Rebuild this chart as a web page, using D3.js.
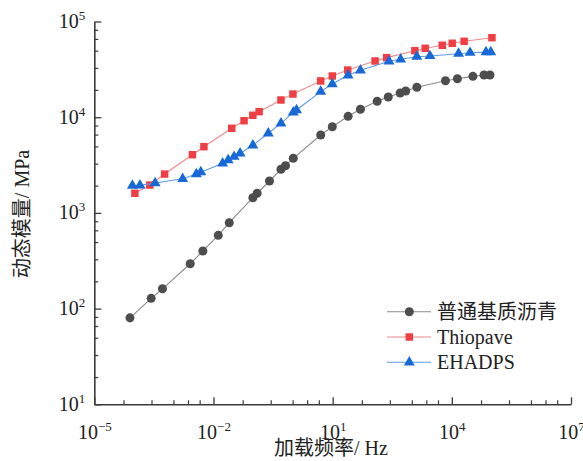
<!DOCTYPE html>
<html>
<head>
<meta charset="utf-8">
<script src="https://cdn.jsdelivr.net/npm/d3@7/dist/d3.min.js"></script>
<style>
  html, body { margin: 0; padding: 0; background: #fff; }
  svg { display: block; }
  text { font-family: "Liberation Serif", "Noto Sans CJK SC", serif; fill: #222; }
</style>
</head>
<body>
<svg id="chart" width="583" height="461"></svg>
<script>
// Loading frequency (Hz) and dynamic modulus (MPa) for each binder
const baseFreq = [7.9e-5, 2.7e-4, 5.2e-4, 2.6e-3, 5.4e-3, 0.0132, 0.025, 0.098, 0.126, 0.257, 0.50, 0.65, 1.02,
                  5.0, 9.8, 24.5, 50, 132, 251, 501, 692, 1318, 6918, 13800, 33900, 64600, 91200];
const baseMod  = [80, 128, 161, 294, 400, 583, 790, 1442, 1603, 2154, 2855, 3114, 3720,
                  6516, 7950, 10210, 12100, 14660, 16250, 17900, 18790, 20530, 24060, 25240, 26730, 27600, 27600];

const thioFreq = [1.05e-4, 2.5e-4, 5.9e-4, 2.95e-3, 5.75e-3, 0.0288, 0.0589, 0.098, 0.141, 0.50, 1.0,
                  5.0, 9.8, 24, 117, 229, 1175, 2138, 5754, 10230, 20400, 102300];
const thioMod  = [1603, 1955, 2546, 4055, 4920, 7657, 9190, 10470, 11430, 15130, 17460,
                  23900, 26950, 31100, 38650, 41900, 49550, 52500, 56400, 59200, 62100, 67700];

const ehaFreq  = [9.1e-5, 1.41e-4, 3.4e-4, 1.68e-3, 3.7e-3, 4.8e-3, 0.017, 0.0234, 0.0331, 0.0468, 0.098, 0.24,
                  0.50, 1.02, 1.23, 5.0, 9.8, 24.5, 50, 263, 513, 1318, 2818, 14800, 28800, 72400, 95500];
const ehaMod   = [1924, 1940, 2052, 2274, 2546, 2665, 3300, 3570, 3865, 4200, 5085, 6790,
                  8630, 11250, 11900, 18500, 22240, 27400, 30900, 38370, 40300, 42900, 43650, 46100, 47200, 47900, 47900];

const seriesNames = ["普通基质沥青", "Thiopave", "EHADPS"];

// Axis ticks (exponents of 10) and minor-tick offsets within each major step
const xTickExp = [-5, -2, 1, 4, 7];
const yTickExp = [1, 2, 3, 4, 5];
const xMinorFrac = [0.245, 0.48, 0.664, 0.786, 0.884];
const yMinorFrac = [0.285, 0.515, 0.695, 0.818, 0.913];

const xTitle = "加载频率/ Hz";
const yTitle = "动态模量/ MPa";

const svg = d3.select("#chart");
const plotLeft = 94.3, plotRight = 571, plotTop = 21.5, plotBottom = 404.3;

const x = d3.scaleLog().domain([1e-5, 1e7]).range([plotLeft, plotRight]);
const y = d3.scaleLog().domain([10, 1e5]).range([plotBottom, plotTop]);

const series = [
  { name: seriesNames[0], freq: baseFreq, mod: baseMod, marker: "#4d4d4d", line: "#8a8a8a", symbol: d3.symbolCircle, size: 64 },
  { name: seriesNames[1], freq: thioFreq, mod: thioMod, marker: "#ef3f45", line: "#f08a8c", symbol: d3.symbolSquare, size: 56 },
  { name: seriesNames[2], freq: ehaFreq,  mod: ehaMod,  marker: "#1769d8", line: "#5d9ae6", symbol: d3.symbolTriangle, size: 52 }
];

// Minor tick values derived from the fractional offsets
const xMinor = [];
for (let i = 0; i < xTickExp.length - 1; i++)
  xMinorFrac.forEach(f => xMinor.push(Math.pow(10, xTickExp[i] + 3 * f)));
const yMinor = [];
for (let i = 0; i < yTickExp.length - 1; i++)
  yMinorFrac.forEach(f => yMinor.push(Math.pow(10, yTickExp[i] + f)));

const axisColor = "#3a3a3a";

function superLabel(sel, exps) {
  sel.each(function(d, i) {
    const t = d3.select(this).text(null);
    t.append("tspan").text("10");
    t.append("tspan").attr("font-size", 13).attr("dy", -8).text(String(exps[i]).replace("-", "−"));
  });
}

// x axis: minor then major ticks, pointing inward
const gxMinor = svg.append("g").attr("transform", `translate(0,${plotBottom})`)
  .call(d3.axisBottom(x).tickValues(xMinor).tickSizeInner(-4).tickSizeOuter(0).tickFormat(""));
gxMinor.select(".domain").remove();
gxMinor.selectAll("line").attr("stroke", axisColor).attr("stroke-width", 1.2);

const gx = svg.append("g").attr("transform", `translate(0,${plotBottom})`)
  .call(d3.axisBottom(x).tickValues(xTickExp.map(e => Math.pow(10, e))).tickSizeInner(-7).tickSizeOuter(0));
gx.select(".domain").attr("stroke", axisColor).attr("stroke-width", 1.6);
gx.selectAll("line").attr("stroke", axisColor).attr("stroke-width", 1.3);
gx.selectAll(".tick text").attr("font-size", 20).attr("fill", "#222")
  .attr("font-family", "Liberation Serif, serif").attr("dy", 0).attr("y", 34.5)
  .call(superLabel, xTickExp);

// y axis
const gyMinor = svg.append("g").attr("transform", `translate(${plotLeft},0)`)
  .call(d3.axisLeft(y).tickValues(yMinor).tickSizeInner(-4).tickSizeOuter(0).tickFormat(""));
gyMinor.select(".domain").remove();
gyMinor.selectAll("line").attr("stroke", axisColor).attr("stroke-width", 1.2);

const gy = svg.append("g").attr("transform", `translate(${plotLeft},0)`)
  .call(d3.axisLeft(y).tickValues(yTickExp.map(e => Math.pow(10, e))).tickSizeInner(-7).tickSizeOuter(0));
gy.select(".domain").attr("stroke", axisColor).attr("stroke-width", 1.6);
gy.selectAll("line").attr("stroke", axisColor).attr("stroke-width", 1.3);
gy.selectAll(".tick text").attr("font-size", 20).attr("fill", "#222")
  .attr("font-family", "Liberation Serif, serif").attr("x", -9).attr("dy", 6).attr("text-anchor", "end")
  .call(superLabel, yTickExp);

// Axis titles
svg.append("text").attr("x", 331).attr("y", 455).attr("text-anchor", "middle")
  .attr("font-size", 20).text(xTitle);
svg.append("text").attr("transform", "translate(29,214) rotate(-90)").attr("text-anchor", "middle")
  .attr("font-size", 20).text(yTitle);

// Series lines and markers
const line = d3.line().x(d => x(d[0])).y(d => y(d[1]));
series.forEach(s => {
  const pts = s.freq.map((f, i) => [f, s.mod[i]]);
  svg.append("path").datum(pts).attr("d", line)
    .attr("fill", "none").attr("stroke", s.line).attr("stroke-width", 1.1);
  svg.append("g").selectAll("path").data(pts).join("path")
    .attr("transform", d => `translate(${x(d[0])},${y(d[1])})`)
    .attr("d", d3.symbol().type(s.symbol).size(s.size))
    .attr("fill", s.marker);
});

// Legend
const legend = svg.append("g");
series.forEach((s, i) => {
  const ly = 311.7 + i * 25.3;
  legend.append("line").attr("x1", 387).attr("x2", 431).attr("y1", ly).attr("y2", ly)
    .attr("stroke", s.line).attr("stroke-width", 1.1);
  legend.append("path").attr("transform", `translate(409.3,${ly})`)
    .attr("d", d3.symbol().type(s.symbol).size(s.size)).attr("fill", s.marker);
  legend.append("text").attr("x", 437).attr("y", ly + 7).attr("font-size", 20).text(s.name);
});
</script>
</body>
</html>
